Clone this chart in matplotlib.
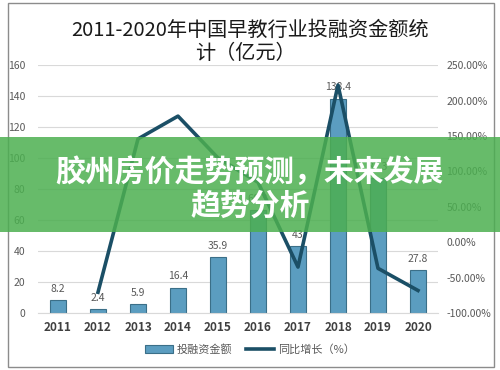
import numpy as np
import matplotlib
matplotlib.use("Agg")
import matplotlib.pyplot as plt
from matplotlib.patches import Rectangle, Patch
from matplotlib.lines import Line2D

plt.rcParams['font.family'] = ['Noto Sans CJK SC', 'DejaVu Sans']
plt.rcParams['axes.unicode_minus'] = False

# --- data ---
years = ['2011', '2012', '2013', '2014', '2015', '2016', '2017', '2018', '2019', '2020']
amount = [8.2, 2.4, 5.9, 16.4, 35.9, 66.3, 43.0, 138.4, 87.3, 27.8]
amount_labels = ['8.2', '2.4', '5.9', '16.4', '35.9', '66.3', '43', '138.4', '87.3', '27.8']
growth = [np.nan, -70.7, 145.8, 178.0, 118.9, 84.7, -35.1, 221.9, -36.9, -68.2]

bar_color = '#5b9dc0'
bar_edge = '#3b6f88'
line_color = '#1b4f66'
text_gray = '#595959'

fig = plt.figure(figsize=(5.0, 3.7), dpi=100)
ax = fig.add_axes([0.076, 0.154, 0.80, 0.670])
x = np.arange(len(years))

ax.bar(x, amount, width=0.42, color=bar_color, edgecolor=bar_edge, linewidth=0.8, zorder=2)
for xi, v, lab in zip(x, amount, amount_labels):
    ax.text(xi, v + 4, lab, ha='center', va='bottom', fontsize=7.5, color=text_gray, zorder=3)

ax.set_xlim(-0.5, len(years) - 0.5)
ax.set_ylim(0, 160)
ax.set_yticks(np.arange(0, 161, 20))
ax.set_xticks(x)
ax.set_xticklabels(years, fontsize=8.5, fontweight='bold', color='#404040')
ax.tick_params(axis='y', labelsize=7.5, colors=text_gray, length=0, pad=9)
ax.tick_params(axis='x', length=0, pad=6)
ax.grid(axis='y', color='#d9d9d9', linewidth=0.8, zorder=0)
ax.set_axisbelow(True)
for s in ax.spines.values():
    s.set_visible(False)
ax.spines['bottom'].set_visible(True)
ax.spines['bottom'].set_color('#d9d9d9')

ax2 = ax.twinx()
ax2.plot(x, growth, color=line_color, linewidth=2.6, zorder=4)
ax2.set_ylim(-100, 250)
ax2.set_yticks(np.arange(-100, 251, 50))
ax2.set_yticklabels([f'{v:.2f}%' for v in np.arange(-100, 251, 50)])
ax2.tick_params(axis='y', labelsize=7.5, colors=text_gray, length=0, pad=6)
for s in ax2.spines.values():
    s.set_visible(False)

# title
fig.text(0.5, 0.918, '2011-2020年中国早教行业投融资金额统', ha='center', va='center',
         fontsize=14.5, color='#1a1a1a')
fig.text(0.49, 0.855, '计（亿元）', ha='center', va='center', fontsize=14.5, color='#1a1a1a')

# legend
handles = [Patch(facecolor=bar_color, edgecolor=bar_edge, linewidth=0.8),
           Line2D([0], [0], color=line_color, linewidth=2.6)]
fig.legend(handles, ['投融资金额', '同比增长（%）'], loc='center', bbox_to_anchor=(0.5, 0.055),
           ncol=2, frameon=False, fontsize=8, labelcolor=text_gray,
           handlelength=2.5, handleheight=0.7, columnspacing=1.2, handletextpad=0.4)

# outer frame
fig.patches.append(Rectangle((0.016, 0.008), 0.972, 0.984, transform=fig.transFigure,
                             fill=False, edgecolor='#8c8c8c', linewidth=1.0, zorder=1))

# green banner overlay
fig.patches.append(Rectangle((0, 0.373), 1, 0.257, transform=fig.transFigure,
                             facecolor='#4caf50', alpha=0.85, edgecolor='none', zorder=10))
fig.text(0.5, 0.535, '胶州房价走势预测，未来发展', ha='center', va='center', fontsize=21.5,
         fontweight='bold', color='white', zorder=11)
fig.text(0.5, 0.445, '趋势分析', ha='center', va='center', fontsize=21.5,
         fontweight='bold', color='white', zorder=11)

fig.savefig('out.png', dpi=100)
